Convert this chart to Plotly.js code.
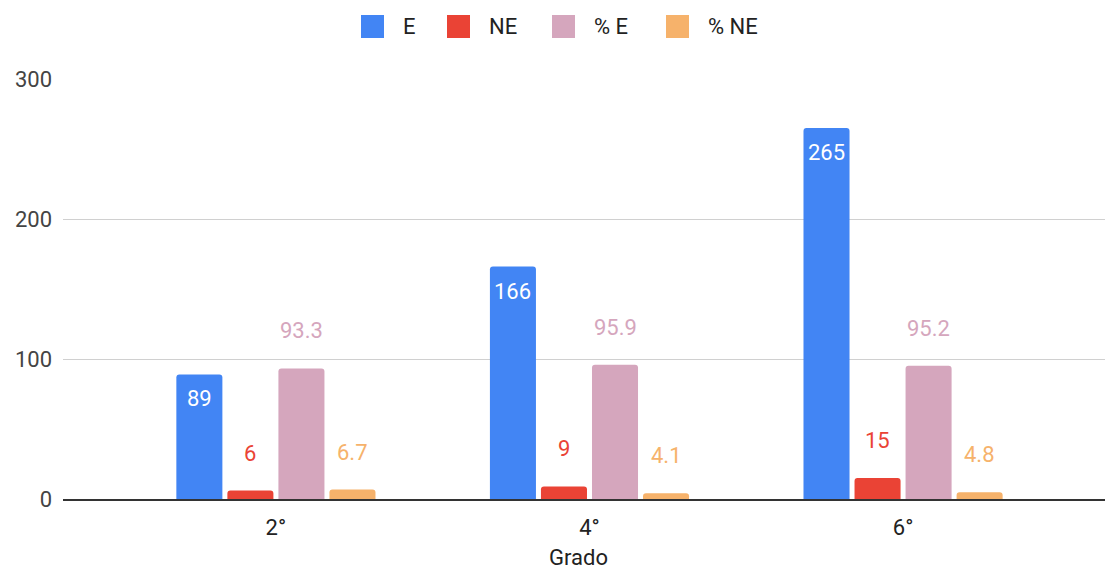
<!DOCTYPE html>
<html>
<head>
<meta charset="utf-8">
<script src="https://cdn.plot.ly/plotly-3.0.1.min.js"></script>
<style>
  html, body { margin: 0; padding: 0; background: #ffffff; }
  #chart { width: 1105px; height: 569px; }
</style>
</head>
<body>
<div id="chart"></div>
<script>
// Students per grade: E / NE counts and their percentages
const grades = ['2°', '4°', '6°'];
const seriesNames = ['E', 'NE', '% E', '% NE'];
const valuesE = [89, 166, 265];
const valuesNE = [6, 9, 15];
const valuesPctE = [93.3, 95.9, 95.2];
const valuesPctNE = [6.7, 4.1, 4.8];
const yTicks = [0, 100, 200, 300];
const xTitle = 'Grado';

const seriesValues = [valuesE, valuesNE, valuesPctE, valuesPctNE];
const seriesColors = ['#4285f4', '#ea4335', '#d5a6bd', '#f6b26b'];
const labelColors = ['#ffffff', '#ea4335', '#d5a6bd', '#f6b26b'];
const labelInside = [true, false, false, false];

// Frame geometry (pixels)
const W = 1105, H = 569;
const M = { l: 63, r: 0, t: 79, b: 70 };
const plotW = W - M.l - M.r;
const plotH = H - M.t - M.b;
const xRange = [-0.679, 2.644];
const yRange = [0, 300];
const barGap = 0.349;
const barGroupGap = 0.098;

const FONT = 'Roboto, Arial, sans-serif';
const fontSize = 22;

const traces = seriesValues.map((vals, i) => ({
  type: 'bar',
  name: seriesNames[i],
  x: grades,
  y: vals,
  marker: { color: seriesColors[i] },
  hoverinfo: 'name+y',
  showlegend: false
}));

// Data labels placed against each bar in the group
const catPx = plotW / (xRange[1] - xRange[0]);
const slotPx = catPx * (1 - barGap) / seriesValues.length;
const annotations = [];
seriesValues.forEach((vals, i) => {
  const xs = (i - (seriesValues.length - 1) / 2) * slotPx;
  vals.forEach((v, j) => {
    annotations.push({
      xref: 'x', yref: 'y',
      x: grades[j], y: v,
      xshift: xs,
      yshift: labelInside[i] ? -24.5 : 37.5,
      text: String(v),
      showarrow: false,
      xanchor: 'center', yanchor: 'middle',
      font: { family: FONT, size: fontSize, color: labelColors[i] }
    });
  });
});

const px2paperX = px => (px - M.l) / plotW;
const px2paperY = py => (M.t + plotH - py) / plotH;

// Horizontal axis title, sitting under the middle category
annotations.push({
  xref: 'paper', yref: 'paper',
  x: px2paperX(578), y: px2paperY(557),
  xanchor: 'center', yanchor: 'middle',
  text: xTitle, showarrow: false,
  font: { family: FONT, size: fontSize, color: '#222222' }
});

// Legend row above the plot
const legendSquares = [361, 447, 552, 666];
const shapes = [];
seriesNames.forEach((name, i) => {
  const x0 = legendSquares[i];
  shapes.push({
    type: 'rect', xref: 'paper', yref: 'paper',
    x0: px2paperX(x0), x1: px2paperX(x0 + 23),
    y0: px2paperY(38), y1: px2paperY(15),
    fillcolor: seriesColors[i], line: { width: 0 }
  });
  annotations.push({
    xref: 'paper', yref: 'paper',
    x: px2paperX(x0 + 40), y: px2paperY(26.5),
    xanchor: 'left', yanchor: 'middle',
    text: name, showarrow: false,
    font: { family: FONT, size: fontSize, color: '#222222' }
  });
});

const layout = {
  width: W, height: H,
  margin: M,
  paper_bgcolor: '#ffffff',
  plot_bgcolor: '#ffffff',
  font: { family: FONT, size: fontSize, color: '#444444' },
  showlegend: false,
  barmode: 'group',
  bargap: barGap,
  bargroupgap: barGroupGap,
  barcornerradius: 3,
  xaxis: {
    type: 'category',
    range: xRange,
    showgrid: false,
    showline: true,
    linecolor: '#333333',
    linewidth: 1.5,
    ticks: '',
    ticklabelstandoff: 8,
    tickfont: { family: FONT, size: fontSize, color: '#222222' },
    fixedrange: true
  },
  yaxis: {
    range: yRange,
    tickvals: yTicks,
    ticktext: yTicks.map(String),
    showgrid: true,
    gridcolor: '#d0d0d0',
    gridwidth: 1,
    zeroline: false,
    showline: false,
    ticks: '',
    ticklabelstandoff: 10,
    tickfont: { family: FONT, size: fontSize, color: '#444444' },
    fixedrange: true
  },
  annotations: annotations,
  shapes: shapes
};

Plotly.newPlot('chart', traces, layout, { displayModeBar: false, staticPlot: true });
</script>
</body>
</html>
